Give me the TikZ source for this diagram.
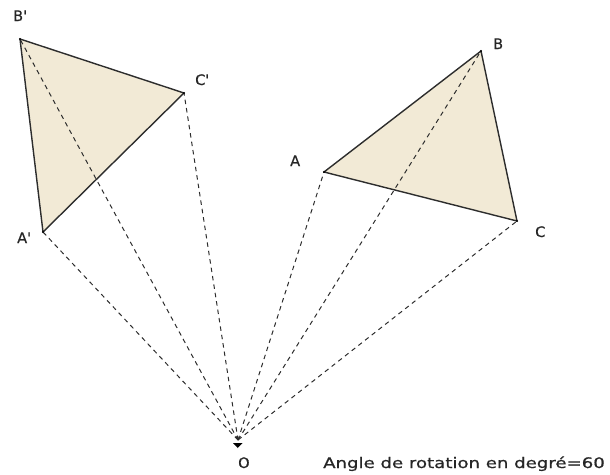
\documentclass[tikz,border=0pt]{standalone}
\usepackage{fontspec}
\usepackage{graphicx}
\newfontfamily\lblfont[FakeBold=0.6]{DejaVu Sans}
\definecolor{trifill}{RGB}{242,234,214}
\definecolor{edge}{RGB}{45,45,45}
\begin{document}
\begin{tikzpicture}[x=1pt,y=-1pt,
  lbl/.style={font=\lblfont\fontsize{14.5}{16}\selectfont, inner sep=0pt, anchor=base west, text=black!85},
  ray/.style={dashed, dash pattern=on 4.5pt off 4pt, line width=1pt, draw=edge},
  side/.style={line width=1.4pt, draw=edge, line join=round},
  tri/.style={fill=trifill},
  vdot/.style={circle, fill=black, inner sep=0pt, minimum size=2.4pt}]
\useasboundingbox (0,0) rectangle (610,474);
% points
\coordinate (O) at (238,440);
\coordinate (A) at (324,172);
\coordinate (B) at (481,51);
\coordinate (C) at (517,221);
\coordinate (A') at (43,232);
\coordinate (B') at (20,39);
\coordinate (C') at (184,93);
% fills
\fill[tri] (A) -- (B) -- (C) -- cycle;
\fill[tri] (A') -- (B') -- (C') -- cycle;
% rays
\foreach \p in {A,B,C,A',B',C'} \draw[ray] (O) -- (\p);
% sides
\draw[side] (A) -- (B) -- (C) -- cycle;
\draw[side] (A') -- (B') -- (C') -- cycle;
% vertex dots
\foreach \p in {A,B,C,A',B',C'} \node[vdot] (d\p) at (\p) {};
% O marker
\fill[black] (233,443) -- (242.5,443) -- (237.75,448) -- cycle;
% labels
\node[lbl] (lA) at (290,166) {A};
\node[lbl] (lB) at (493,49) {B};
\node[lbl] (lC) at (535,237) {C};
\node[lbl] (lAp) at (17,243) {A'};
\node[lbl] (lBp) at (13,21) {B'};
\node[lbl] (lCp) at (195,85) {C'};
\node[lbl] (lO) at (238,468) {O};
\node[lbl] (angle) at (323,468) {\scalebox{1.25}[1]{Angle de rotation en degré=60}};
\end{tikzpicture}
\end{document}
